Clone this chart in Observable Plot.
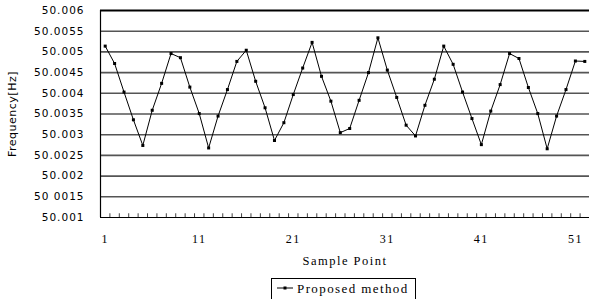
<!DOCTYPE html>
<html>
<head>
<meta charset="utf-8">
<script src="https://cdn.jsdelivr.net/npm/d3@7"></script>
<script src="https://cdn.jsdelivr.net/npm/@observablehq/plot@0.6"></script>
<style>
  html, body { margin: 0; padding: 0; background: #fff; }
  #wrap { position: relative; width: 589px; height: 299px; overflow: hidden; }
  #legend {
    position: absolute; left: 271px; top: 278px; width: 145px; height: 24px;
    border: 1px solid #000; box-sizing: border-box;
    font-family: "Liberation Serif", serif; font-size: 13px; letter-spacing: 1.4px;
    display: flex; align-items: flex-start; padding-top: 2px;
  }
  #legend svg { margin: 0 4px 0 5px; }
  .ytl text { letter-spacing: 1px; }
</style>
</head>
<body>
<div id="wrap">
  <div id="chart"></div>
  <div id="legend"><svg width="16" height="14"><line x1="0" y1="7" x2="16" y2="7" stroke="#000" stroke-width="1"/><rect x="6.5" y="5.5" width="3" height="3" fill="#000"/></svg><span>Proposed method</span></div>
</div>
<script>
const samples = d3.range(1, 53);
const freq = [
  50.00514, 50.00472, 50.00403, 50.00336, 50.00274, 50.00359, 50.00424, 50.00496, 50.00486, 50.00415,
  50.00351, 50.00268, 50.00345, 50.00409, 50.00477, 50.00504, 50.00429, 50.00365, 50.00286, 50.00329,
  50.00397, 50.00461, 50.00523, 50.00441, 50.00381, 50.00305, 50.00315, 50.00383, 50.00450, 50.00534,
  50.00456, 50.00390, 50.00323, 50.00297, 50.00371, 50.00434, 50.00514, 50.00470, 50.00403, 50.00339,
  50.00276, 50.00357, 50.00421, 50.00496, 50.00484, 50.00414, 50.00351, 50.00266, 50.00345, 50.00409,
  50.00478, 50.00477
];
const yTicks = [50.001, 50.0015, 50.002, 50.0025, 50.003, 50.0035, 50.004, 50.0045, 50.005, 50.0055, 50.006];
const yTickLabels = ["50.001", "50 0015", "50.002", "50.0025", "50.003", "50.0035", "50.004", "50.0045", "50.005", "50.0055", "50.006"];
const xTicks = [1, 11, 21, 31, 41, 51];
const seriesName = "Proposed method";

const data = samples.map((s, i) => ({sample: s, freq: freq[i]}));
const boundaries = d3.range(1.5, 52.5, 1);

const chart = Plot.plot({
  width: 589,
  height: 270,
  marginLeft: 100,
  marginRight: 0,
  marginTop: 10,
  marginBottom: 53,
  style: {fontFamily: "Liberation Serif, serif", background: "#fff", color: "#000"},
  x: {domain: [0.5, 52.5]},
  y: {domain: [50.001, 50.006]},
  marks: [
    Plot.ruleY(yTicks.filter(v => v > 50.001 && v < 50.006), {stroke: "#555", strokeWidth: 1.6}),
    Plot.ruleY([50.006], {stroke: "#000", strokeWidth: 2}),
    Plot.ruleY([50.001], {stroke: "#000", strokeWidth: 1.2}),
    Plot.ruleX([0.5], {stroke: "#000", strokeWidth: 1.2}),
    Plot.ruleX(boundaries, {y1: 50.001, y2: 50.00109, stroke: "#444", strokeWidth: 1}),
    Plot.axisY({
      ticks: yTicks, tickSize: 0, tickPadding: 16,
      tickFormat: (d, i) => yTickLabels[i],
      fontSize: 10.5, fontFamily: "DejaVu Sans, sans-serif", className: "ytl",
      label: "Frequency[Hz]", labelAnchor: "center", labelOffset: 92, labelArrow: "none"
    }),
    Plot.axisX({
      ticks: xTicks, tickSize: 0, tickPadding: 17, fontSize: 12,
      label: "Sample Point", labelAnchor: "center", labelOffset: 47, labelArrow: "none"
    }),
    Plot.line(data, {x: "sample", y: "freq", stroke: "#000", strokeWidth: 1}),
    Plot.dot(data, {x: "sample", y: "freq", symbol: "square", r: 1.7, fill: "#000", stroke: "none"})
  ]
});
document.getElementById("chart").appendChild(chart);
d3.select(chart).selectAll("[aria-label='x-axis label'] text").style("font-size", "12.5px").style("letter-spacing", "1.5px");
d3.select(chart).selectAll("[aria-label='y-axis label'] text").style("font-size", "11px").style("letter-spacing", "0.5px");
d3.select(chart).selectAll("[aria-label='x-axis tick label'] text").style("letter-spacing", "1.5px");
</script>
</body>
</html>
